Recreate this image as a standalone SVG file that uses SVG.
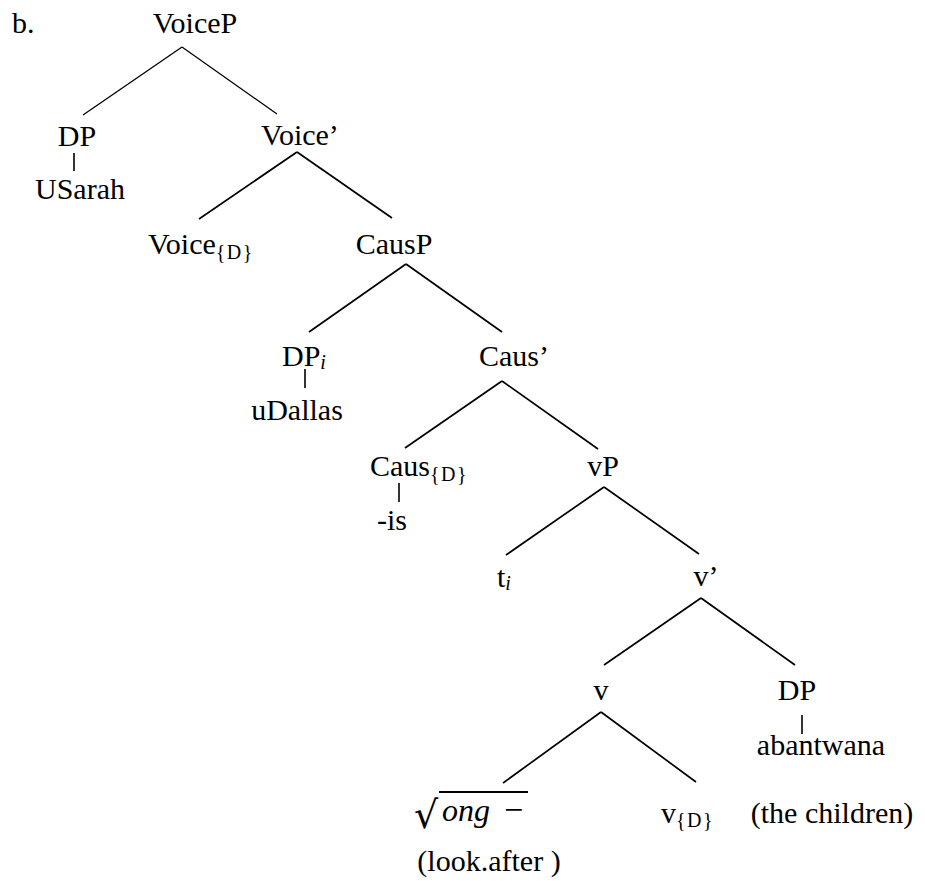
<svg xmlns="http://www.w3.org/2000/svg" width="925" height="881" viewBox="0 0 925 881" font-family="Liberation Serif, Tinos, Times New Roman, DejaVu Serif, serif">
  <style>
    text { font-family: "Liberation Serif", Tinos, "Times New Roman", "DejaVu Serif", serif; font-size: 30px; fill: #000; }
    .c { text-anchor: middle; }
    .sub { font-size: 20px; letter-spacing: 1.5px; }
    .it { font-style: italic; font-size: 32px; }
    .minus { font-size: 34px; }
    .isub { font-size: 20px; font-style: italic; }
    .rad { font-family: "DejaVu Serif", serif; font-size: 38px; }
    .edge { stroke: #000; stroke-width: 1.7; fill: none; stroke-linecap: butt; }
    .thin { stroke-width: 1.3; }
    .bar { stroke: #000; stroke-width: 1.6; }
  </style>
  <rect width="925" height="881" fill="#fff"/>

  <text x="12" y="33">b.</text>

  <!-- branches -->
  <g id="connectors">
    <line class="edge thin" x1="182" y1="47" x2="83" y2="115"/>
    <line class="edge thin" x1="182" y1="47" x2="277" y2="114"/>
    <line class="edge" x1="297" y1="152" x2="199" y2="219"/>
    <line class="edge" x1="297" y1="152" x2="392" y2="218"/>
    <line class="edge" x1="406" y1="264" x2="309" y2="332"/>
    <line class="edge" x1="406" y1="264" x2="502" y2="332"/>
    <line class="edge" x1="502" y1="381" x2="405" y2="448"/>
    <line class="edge" x1="502" y1="381" x2="598" y2="449"/>
    <line class="edge" x1="604" y1="487" x2="506" y2="555"/>
    <line class="edge" x1="604" y1="487" x2="699" y2="554"/>
    <line class="edge" x1="701" y1="598" x2="604" y2="665"/>
    <line class="edge" x1="701" y1="598" x2="795" y2="665"/>
    <line class="edge" x1="601" y1="712" x2="503" y2="783"/>
    <line class="edge" x1="601" y1="712" x2="696" y2="782"/>
    <!-- terminal bars -->
    <line class="bar" x1="74" y1="153" x2="74" y2="171"/>
    <line class="bar" x1="305" y1="369" x2="305" y2="388"/>
    <line class="bar" x1="399" y1="483" x2="399" y2="502"/>
    <line class="bar" x1="802" y1="715" x2="802" y2="734"/>
  </g>

  <g id="VoiceP"><text class="c" x="195" y="33">VoiceP</text></g>
  <g id="DP-subject"><text class="c" x="77" y="146">DP</text></g>
  <g id="USarah"><text class="c" x="80" y="199">USarah</text></g>
  <g id="VoiceBar"><text class="c" x="300" y="145">Voice’</text></g>
  <g id="VoiceD"><text x="148" y="254">Voice<tspan class="sub" dy="5">{D}</tspan></text></g>
  <g id="CausP"><text class="c" x="394" y="254">CausP</text></g>
  <g id="DPi"><text x="282" y="366">DP<tspan class="isub" dy="3">i</tspan></text></g>
  <g id="uDallas"><text class="c" x="297" y="420">uDallas</text></g>
  <g id="CausBar"><text class="c" x="514" y="366">Caus’</text></g>
  <g id="CausD"><text x="370" y="476">Caus<tspan class="sub" dy="5">{D}</tspan></text></g>
  <g id="is"><text class="c" x="392" y="530">-is</text></g>
  <g id="vP"><text class="c" x="603" y="476">vP</text></g>
  <g id="ti"><text x="497" y="587">t<tspan class="isub" dy="3">i</tspan></text></g>
  <g id="vBar"><text class="c" x="706" y="586">v’</text></g>
  <g id="v"><text class="c" x="601" y="700">v</text></g>
  <g id="DP-object"><text class="c" x="797" y="700">DP</text></g>
  <g id="abantwana"><text class="c" x="821" y="755">abantwana</text></g>
  <g id="root">
    <text class="rad" x="414" y="828">√</text>
    <line x1="439" y1="792" x2="528" y2="792" stroke="#000" stroke-width="2"/>
    <text class="it" x="442" y="821">ong</text>
    <text class="minus" x="504" y="821">−</text>
  </g>
  <g id="vD"><text x="661" y="823">v<tspan class="sub" dy="4">{D}</tspan></text></g>
  <g id="gloss-children"><text class="c" x="832" y="823">(the children)</text></g>
  <g id="gloss-look"><text class="c" x="489" y="871">(look.after )</text></g>
</svg>
